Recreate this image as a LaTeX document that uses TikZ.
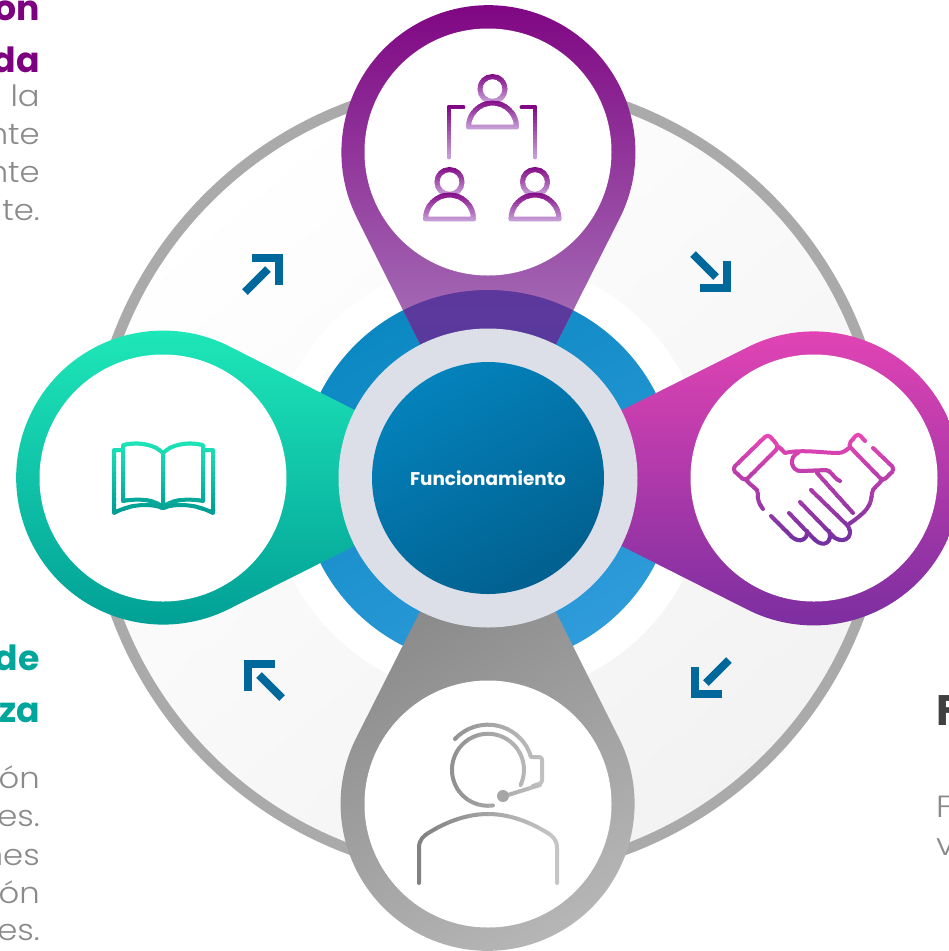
\documentclass[tikz,border=0pt]{standalone}
\usepackage{fontspec}
\usepackage{xcolor}
\setmainfont{Poppins}
\newfontfamily\thinfont[FakeStretch=1.1]{Poppins Light}

\definecolor{ringgray}{HTML}{AAAAAA}
\definecolor{hubgray}{HTML}{DCDFE7}
\definecolor{arrowblue}{HTML}{00689A}
\definecolor{bodygray}{HTML}{8A8A8A}
\definecolor{bandA}{HTML}{0B88C2}
\definecolor{bandB}{HTML}{2F9BDB}
\definecolor{coreA}{HTML}{0482BC}
\definecolor{coreB}{HTML}{01608F}
\definecolor{purpleA}{HTML}{7D0080}
\definecolor{purpleB}{HTML}{AB7DBE}
\definecolor{overA}{HTML}{5C389C}
\definecolor{overB}{HTML}{4C42A6}
\definecolor{pinkA}{HTML}{E845B5}
\definecolor{pinkB}{HTML}{7A2EA0}
\definecolor{greenA}{HTML}{1EE8B9}
\definecolor{greenB}{HTML}{009B94}
\definecolor{headteal}{HTML}{00A59B}

% icon strokes in bands, so that they can follow a gradient
\newcommand{\ybands}[5]{
  \foreach \k in {1,...,14} {
    \pgfmathsetmacro{\pct}{100*(\k-.5)/14}
    \colorlet{bandcolor}{#4!\pct!#3}
    \begin{scope}
      \clip (-100,{#1+(#2-#1)*(\k-1)/14-.3}) rectangle (1100,{#1+(#2-#1)*\k/14+.3});
      \draw[iconline,draw=bandcolor] #5;
    \end{scope}
  }
}
\newcommand{\xbands}[5]{
  \foreach \k in {1,...,14} {
    \pgfmathsetmacro{\pct}{100*(\k-.5)/14}
    \colorlet{bandcolor}{#4!\pct!#3}
    \begin{scope}
      \clip ({#1+(#2-#1)*(\k-1)/14-.3},-100) rectangle ({#1+(#2-#1)*\k/14+.3},1100);
      \draw[iconline,draw=bandcolor] #5;
    \end{scope}
  }
}
\newcommand{\toppin}{(357,218) arc[start angle=153.4,end angle=386.6,radius=147] -- (538,380) -- (438,380) -- cycle}

\begin{document}
\begin{tikzpicture}
  [x=.75pt,y=-.75pt,
   disc/.style={circle,inner sep=0pt,minimum size=#1*.75pt},
   iconline/.style={line width=3pt,line cap=round,line join=round},
   arrowmark/.style={draw=arrowblue,line width=6pt},
   headline/.style={anchor=base east,inner sep=0pt,font=\bfseries\fontsize{26}{26}\selectfont},
   bodyline/.style={anchor=base east,inner sep=0pt,text=bodygray,font=\thinfont\fontsize{22}{22}\selectfont}]
  \useasboundingbox (0,0) rectangle (949,951);

  \node[disc=792,draw=ringgray,line width=8pt,top color=white,bottom color=black!5,shading angle=40] (ring) at (488,478) {};
  \node[disc=440,fill=white] (glow) at (488,478) {};
  \node[disc=376,top color=bandA,bottom color=bandB,shading angle=30] (band) at (488,478) {};

  % the four pins
  \shade[top color=purpleA,bottom color=purpleB] \toppin;
  \begin{scope}
    \clip \toppin;
    \shade[top color=overA,bottom color=overB] (488,478) circle[radius=188];
  \end{scope}
  \shade[top color=pinkA,bottom color=pinkB]
    (748,347) arc[start angle=243.4,end angle=476.6,radius=147] -- (586,528) -- (586,428) -- cycle;
  \shade[top color=greenA,bottom color=greenB]
    (229,609) arc[start angle=63.4,end angle=296.6,radius=147] -- (390,428) -- (390,528) -- cycle;
  \shade[top color=black!46,bottom color=black!28,shading angle=30]
    (619,738) arc[start angle=-26.6,end angle=206.6,radius=147] -- (438,576) -- (538,576) -- cycle;

  \node[disc=299,fill=hubgray] (hub) at (488,478) {};
  \node[disc=232,top color=coreA,bottom color=coreB,shading angle=30,text=white,font=\bfseries\fontsize{13.8}{16}\selectfont] (core) at (488,478) {Funcionamiento};

  \node[disc=247,fill=white] (top) at (488,152) {};
  \node[disc=247,fill=white] (right) at (814,478) {};
  \node[disc=247,fill=white] (left) at (163,478) {};
  \node[disc=247,fill=white] (bottom) at (488,804) {};

  % arrows between the pins
  \foreach \xpos/\ypos/\rot in {279/258/0,727/288/-90,695/694/180,248/664/90} {
    \begin{scope}[shift={(\xpos,\ypos)},rotate=\rot]
      \draw[arrowmark] (-27,0) -- (0,0) -- (0,27);
      \draw[arrowmark] (-34,34) -- (-11,11);
    \end{scope}
  }

  % people icon
  \definecolor{iconA}{HTML}{7D0080}
  \definecolor{iconB}{HTML}{C9A2D9}
  \begin{scope}[iconline/.append style={line width=3.7pt}]
    \ybands{74}{103}{iconA}{iconB}{(492.5,89) circle[radius=12.5]}
    \ybands{100}{130}{iconA}{iconB}{(468.5,127) arc[start angle=180,end angle=360,radius=24] -- cycle}
    \ybands{105}{159}{iconA}{iconB}{(463,107) -- (449,107) -- (449,157)}
    \ybands{105}{159}{iconA}{iconB}{(522,107) -- (535,107) -- (535,157)}
    \ybands{167}{196}{iconA}{iconB}{(449.5,182) circle[radius=12.5]}
    \ybands{192}{222}{iconA}{iconB}{(425.5,219) arc[start angle=180,end angle=360,radius=24] -- cycle}
    \ybands{167}{196}{iconA}{iconB}{(535,182) circle[radius=12.5]}
    \ybands{192}{222}{iconA}{iconB}{(511,219) arc[start angle=180,end angle=360,radius=24] -- cycle}
  \end{scope}

  % handshake icon
  \definecolor{iconA}{HTML}{EC46B4}
  \definecolor{iconB}{HTML}{7030A0}
  \ybands{432}{546}{iconA}{iconB}{
    [rounded corners=3pt] (768,434) -- (779,447) -- (745,481) -- (732,469) -- cycle
    (865,441) -- (858,433) -- (848,445) -- (883,481) -- (895,469) -- (873,448)
    [sharp corners]
    (779,447) -- (785,453) .. controls (800,449) and (825,453) .. (838,453) .. controls (843,453) and (847,450) .. (850,447)
    (798,453) .. controls (789,456) and (790,471) .. (801,471) -- (826,470) .. controls (831,470) and (832,477) .. (840,481)
    (817,473) -- (853,513)
    (882,480) .. controls (878,486) and (873,487) .. (872,493) .. controls (871,507) and (866,512) .. (849,524)
    (747,481) .. controls (752,487) and (758,488) .. (758,494) .. controls (757,500) and (760,505) .. (763,509)
    (811,490) -- (847,525) .. controls (855,534) and (846,545) .. (835,538) -- (800,502)
    (789,513) -- (815,540) .. controls (824,548) and (833,542) .. (829,531)
    (771,516) -- (792,537) .. controls (800,544) and (808,539) .. (807,531)
  }

  % book icon
  \definecolor{iconA}{HTML}{1FE6B8}
  \definecolor{iconB}{HTML}{009B94}
  \ybands{441}{515}{iconA}{iconB}{
    (163,453) .. controls (155,445) and (140,441) .. (123,445) -- (123,501) .. controls (140,498) and (155,500) .. (163,507)
    .. controls (171,500) and (186,498) .. (203,501) -- (203,445) .. controls (186,441) and (171,445) .. (163,453) -- (163,507)
    (123,450) -- (114,450) -- (114,513) .. controls (130,504) and (150,503) .. (163,508)
    .. controls (176,503) and (196,504) .. (213,513) -- (213,450) -- (203,450)
  }

  % headset icon
  \definecolor{iconA}{HTML}{7F7F7F}
  \definecolor{iconB}{HTML}{C8C8C8}
  \xbands{417}{559}{iconA}{iconB}{
    (520.6,785) arc[start angle=25,end angle=-278,radius=36]
    (455,739) arc[start angle=223,end angle=343.5,radius=45]
    [rounded corners=2pt] (533,757) -- (542,757) -- (542,783) -- (533,786)
    [sharp corners] (540,785) -- (508,795)
    (419,883) -- (419,848) .. controls (419,840) and (423,836) .. (430,832) .. controls (448,821) and (468,814) .. (488,814)
    .. controls (508,814) and (528,821) .. (546,832) .. controls (553,836) and (557,840) .. (557,848) -- (557,883)
  }
  \fill[black!35] (503,796) circle[radius=6];

  % cut off texts on the page edges
  \node[headline,text=purpleA] (ha) at (40,20) {on};
  \node[headline,text=purpleA] (hb) at (40,72) {da};
  \node[headline,text=headteal] (hc) at (40,670) {de};
  \node[headline,text=headteal] (hd) at (40,722) {za};
  \foreach \i/\ypos/\txt in {1/106/e la,2/144/nte,3/182/nte,4/220/te.,5/788/ón,6/826/es.,7/865/nes,8/903/ón,9/940/es.}
    \node[bodyline] (line\i) at (40,\ypos) {\txt};
  \node[anchor=base west,inner sep=0pt,text=black!75,font=\bfseries\fontsize{32}{32}\selectfont] (fa) at (936,725) {F};
  \node[anchor=base west,inner sep=0pt,text=bodygray,font=\thinfont\fontsize{23}{23}\selectfont] (fb) at (936,817) {F};
  \node[anchor=base west,inner sep=0pt,text=bodygray,font=\thinfont\fontsize{23}{23}\selectfont] (fc) at (936,855) {v};
\end{tikzpicture}
\end{document}
